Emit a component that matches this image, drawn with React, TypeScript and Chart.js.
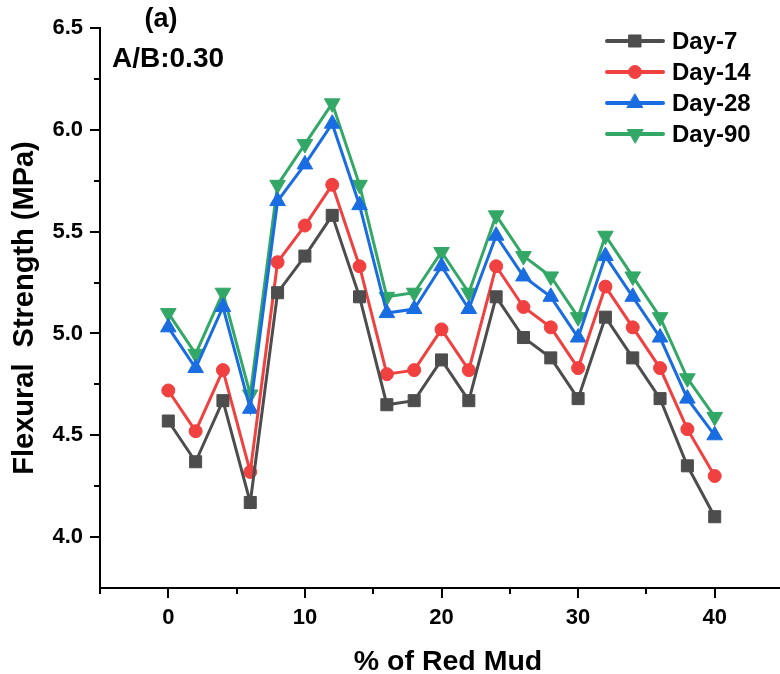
import React, { useEffect, useRef } from 'react';
import { Chart, registerables } from 'chart.js';
import { drawPoint } from 'chart.js/helpers';

Chart.register(...registerables);

// % of red mud in the mix
const redMud = [0, 2, 4, 6, 8, 10, 12, 14, 16, 18, 20, 22, 24, 26, 28, 30, 32, 34, 36, 38, 40];

// Flexural strength (MPa) by curing age
const day7 = [4.57, 4.37, 4.67, 4.17, 5.2, 5.38, 5.58, 5.18, 4.65, 4.67, 4.87, 4.67, 5.18, 4.98, 4.88, 4.68, 5.08, 4.88, 4.68, 4.35, 4.1];
const day14 = [4.72, 4.52, 4.82, 4.32, 5.35, 5.53, 5.73, 5.33, 4.8, 4.82, 5.02, 4.82, 5.33, 5.13, 5.03, 4.83, 5.23, 5.03, 4.83, 4.53, 4.3];
const day28 = [5.03, 4.83, 5.13, 4.63, 5.65, 5.83, 6.03, 5.63, 5.1, 5.12, 5.33, 5.12, 5.48, 5.28, 5.18, 4.98, 5.38, 5.18, 4.98, 4.68, 4.5];
const day90 = [5.1, 4.9, 5.2, 4.7, 5.73, 5.93, 6.13, 5.73, 5.18, 5.2, 5.4, 5.2, 5.58, 5.38, 5.28, 5.08, 5.48, 5.28, 5.08, 4.78, 4.59];

const seriesNames = ['Day-7', 'Day-14', 'Day-28', 'Day-90'];
const xTicks = [0, 10, 20, 30, 40];
const xMinorTicks = [-5, 5, 15, 25, 35, 45];
const yTicks = [4.0, 4.5, 5.0, 5.5, 6.0, 6.5];
const yMinorTicks = [4.25, 4.75, 5.25, 5.75, 6.25];

const FONT = "'Liberation Sans', Arial, sans-serif";

const styles = [
  { color: '#4d4d4d', pointStyle: 'rect', radius: 8.5, rotation: 0 },
  { color: '#f0403f', pointStyle: 'circle', radius: 6.5, rotation: 0 },
  { color: '#1a6de0', pointStyle: 'triangle', radius: 9, rotation: 0 },
  { color: '#33a866', pointStyle: 'triangle', radius: 9, rotation: 180 },
];

const decorations = {
  id: 'decorations',
  afterDraw(chart: any) {
    const { ctx, chartArea, scales } = chart;
    const xs = scales.x;
    const ys = scales.y;
    ctx.save();

    // minor ticks
    ctx.strokeStyle = '#000';
    ctx.lineWidth = 2;
    ctx.beginPath();
    xMinorTicks.forEach((v) => {
      const px = Math.round(xs.getPixelForValue(v));
      ctx.moveTo(px, chartArea.bottom);
      ctx.lineTo(px, chartArea.bottom + 6);
    });
    yMinorTicks.forEach((v) => {
      const py = Math.round(ys.getPixelForValue(v));
      ctx.moveTo(chartArea.left, py);
      ctx.lineTo(chartArea.left - 6, py);
    });
    ctx.stroke();

    // axis titles
    ctx.fillStyle = '#000';
    ctx.textAlign = 'center';
    ctx.textBaseline = 'middle';
    ctx.font = `bold 28.5px ${FONT}`;
    ctx.fillText('% of Red Mud', 448, 662);
    ctx.save();
    ctx.translate(25, 308);
    ctx.rotate(-Math.PI / 2);
    ctx.font = `bold 29px ${FONT}`;
    ctx.fillText('Flexural  Strength (MPa)', 0, 0);
    ctx.restore();

    // panel labels
    ctx.font = `bold 27px ${FONT}`;
    ctx.fillText('(a)', 161, 20);
    ctx.textAlign = 'left';
    ctx.font = `bold 28px ${FONT}`;
    ctx.fillText('A/B:0.30', 112, 59);

    // legend
    const rows = [41, 72, 103, 134];
    ctx.font = `bold 24px ${FONT}`;
    chart.data.datasets.forEach((ds: any, i: number) => {
      const y = rows[i];
      const s = styles[i];
      ctx.strokeStyle = s.color;
      ctx.fillStyle = s.color;
      ctx.lineWidth = 4;
      ctx.lineCap = 'round';
      ctx.beginPath();
      ctx.moveTo(607, y);
      ctx.lineTo(663, y);
      ctx.stroke();
      ctx.lineWidth = 1;
      drawPoint(ctx, { pointStyle: s.pointStyle, rotation: s.rotation, radius: s.radius, borderWidth: 1 } as any, 635, y);
      ctx.fillStyle = '#000';
      ctx.textAlign = 'left';
      ctx.fillText(ds.label, 672, y + 1);
    });

    ctx.restore();
  },
};

export default function App() {
  const canvasRef = useRef<HTMLCanvasElement | null>(null);

  useEffect(() => {
    const canvas = canvasRef.current;
    if (!canvas) return;
    const seriesValues = [day7, day14, day28, day90];
    const chart = new Chart(canvas, {
      type: 'line',
      data: {
        datasets: seriesValues.map((vals, i) => ({
          label: seriesNames[i],
          data: redMud.map((x, j) => ({ x, y: vals[j] })),
          borderColor: styles[i].color,
          backgroundColor: styles[i].color,
          borderWidth: 3,
          pointStyle: styles[i].pointStyle as any,
          pointRotation: styles[i].rotation,
          pointRadius: styles[i].radius,
          pointBorderWidth: 1,
          pointBorderColor: styles[i].color,
          pointBackgroundColor: styles[i].color,
          tension: 0,
        })),
      },
      options: {
        animation: false,
        responsive: false,
        devicePixelRatio: 1,
        layout: { padding: { top: 28, left: 0, right: 0, bottom: 0 } },
        plugins: { legend: { display: false }, tooltip: { enabled: false } },
        scales: {
          x: {
            type: 'linear',
            min: -5,
            max: 45,
            afterFit: (scale: any) => {
              scale.height = 86;
            },
            afterBuildTicks: (scale: any) => {
              scale.ticks = xTicks.map((v) => ({ value: v }));
            },
            border: { display: true, color: '#000', width: 2 },
            grid: { display: true, drawOnChartArea: false, drawTicks: true, tickLength: 10, color: '#000', lineWidth: 2 },
            ticks: {
              color: '#000',
              font: { family: FONT, size: 22, weight: 'bold' },
              padding: 7,
              maxRotation: 0,
              autoSkip: false,
              callback: (v: any) => String(v),
            },
          },
          y: {
            type: 'linear',
            min: 3.75,
            max: 6.5,
            afterFit: (scale: any) => {
              scale.width = 100;
            },
            afterBuildTicks: (scale: any) => {
              scale.ticks = yTicks.map((v) => ({ value: v }));
            },
            border: { display: true, color: '#000', width: 2 },
            grid: { display: true, drawOnChartArea: false, drawTicks: true, tickLength: 10, color: '#000', lineWidth: 2 },
            ticks: {
              color: '#000',
              font: { family: FONT, size: 22, weight: 'bold' },
              padding: 7,
              autoSkip: false,
              callback: (v: any) => Number(v).toFixed(1),
            },
          },
        },
      },
      plugins: [decorations],
    });
    return () => chart.destroy();
  }, []);

  return (
    <div style={{ position: 'fixed', left: 0, top: 0, width: 780, height: 674, overflow: 'hidden', background: '#fff' }}>
      <canvas ref={canvasRef} width={793} height={674} style={{ display: 'block' }} />
    </div>
  );
}
